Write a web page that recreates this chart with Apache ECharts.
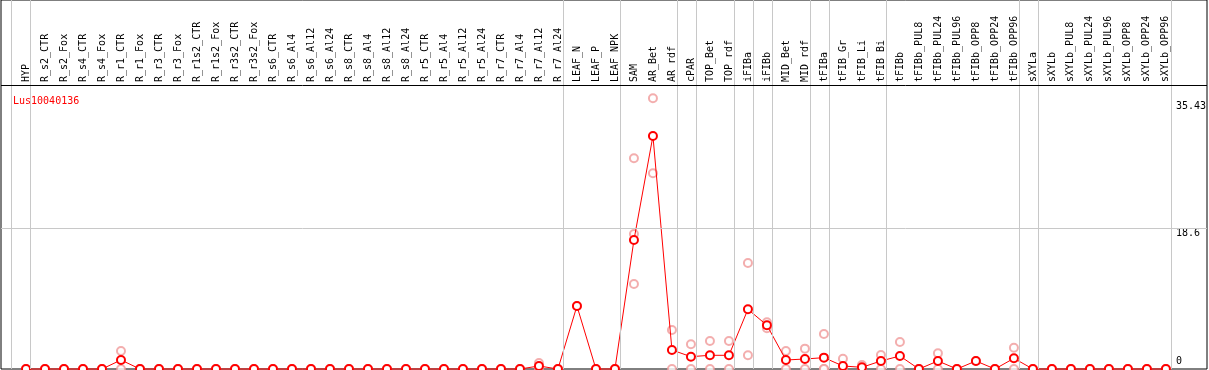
<!DOCTYPE html>
<html>
<head>
<meta charset="utf-8">
<script src="https://cdn.jsdelivr.net/npm/echarts@6/dist/echarts.min.js"></script>
<style>
  html, body { margin: 0; padding: 0; background: #fff; }
  #chart { width: 1209px; height: 370px; }
</style>
</head>
<body>
<div id="chart"></div>
<script>
// sample names, left to right
const categories = [
  'HYP', 'R_s2_CTR', 'R_s2_Fox', 'R_s4_CTR', 'R_s4_Fox', 'R_r1_CTR', 'R_r1_Fox', 'R_r3_CTR', 'R_r3_Fox',
  'R_r1s2_CTR', 'R_r1s2_Fox', 'R_r3s2_CTR', 'R_r3s2_Fox', 'R_s6_CTR', 'R_s6_Al4', 'R_s6_Al12', 'R_s6_Al24',
  'R_s8_CTR', 'R_s8_Al4', 'R_s8_Al12', 'R_s8_Al24', 'R_r5_CTR', 'R_r5_Al4', 'R_r5_Al12', 'R_r5_Al24',
  'R_r7_CTR', 'R_r7_Al4', 'R_r7_Al12', 'R_r7_Al24', 'LEAF_N', 'LEAF_P', 'LEAF_NPK', 'SAM', 'AR_Bet', 'AR_rdf',
  'cPAR', 'TOP_Bet', 'TOP_rdf', 'iFIBa', 'iFIBb', 'MID_Bet', 'MID_rdf', 'tFIBa', 'tFIB_Gr', 'tFIB_Li', 'tFIB_Bi',
  'tFIBb', 'tFIBb_PUL8', 'tFIBb_PUL24', 'tFIBb_PUL96', 'tFIBb_OPP8', 'tFIBb_OPP24', 'tFIBb_OPP96', 'sXYLa',
  'sXYLb', 'sXYLb_PUL8', 'sXYLb_PUL24', 'sXYLb_PUL96', 'sXYLb_OPP8', 'sXYLb_OPP24', 'sXYLb_OPP96'
];

// mean expression per sample
const means = [
  0, 0, 0, 0, 0, 1.19, 0, 0, 0, 0, 0, 0, 0, 0, 0, 0, 0, 0, 0, 0, 0, 0, 0, 0, 0, 0, 0, 0.4, 0,
  8.33, 0, 0, 17.05, 30.8, 2.51, 1.63, 1.81, 1.81, 7.89, 5.78, 1.19, 1.32, 1.5, 0.4, 0.22, 1.06, 1.72,
  0, 1.06, 0, 1.06, 0, 1.41, 0, 0, 0, 0, 0, 0, 0, 0
];

// replicate values (index -> values), samples not listed have replicates at 0
const replicates = {
  5: [2.38, 0],
  27: [0.8, 0],
  29: [8.33],
  32: [27.85, 17.85, 11.24],
  33: [35.78, 25.87],
  34: [5.16, 0],
  35: [3.26, 0],
  36: [3.7, 0],
  37: [3.7, 0],
  38: [14.01, 1.81],
  39: [6.17, 5.38],
  40: [2.38, 0],
  41: [2.69, 0],
  42: [4.63, 0, 0],
  43: [1.36, 0],
  44: [0.53, 0],
  45: [1.85, 0],
  46: [3.57, 0],
  48: [2.07, 0],
  50: [1.06],
  52: [2.82, 0]
};

// right axis labels
const yTicks = [0, 18.6, 35.43];
const gridValue = 18.6;

// group separators: drawn just right of these sample indexes
const separatorAfter = [-1, 0, 28, 31, 34, 35, 37, 38, 39, 41, 42, 45, 52, 53, 60];

const title = 'Lus10040136';

// layout
const W = 1209, H = 370;
const plotL = 26, plotR = 1166.6;       // first / last sample position
const frameL = 1, frameR = 1207;
const headerY = 85, baseY = 369;
const yMax = 37.54;                     // value at header line
const step = (plotR - plotL) / (categories.length - 1);
const frameYMax = yMax * baseY / (baseY - headerY);

const repData = [];
categories.forEach((c, i) => {
  (replicates[i] || [0, 0]).forEach((v) => repData.push([i, v]));
});

const mono = 'DejaVu Sans Mono';
const chart = echarts.init(document.getElementById('chart'), null, { renderer: 'canvas' });

const frameLines = separatorAfter.map((i) => ({ xAxis: i + 0.24 }));
frameLines.push({ yAxis: gridValue });
frameLines.push({ yAxis: yMax, lineStyle: { color: '#000' } });

chart.setOption({
  animation: false,
  backgroundColor: '#fff',
  title: {
    text: title,
    left: 8,
    top: 91,
    textStyle: { color: '#ff0000', fontSize: 10, fontWeight: 'normal', fontFamily: mono }
  },
  grid: [
    { left: plotL, right: W - plotR, top: headerY, bottom: H - baseY },
    { left: frameL, right: W - frameR, top: 0, bottom: H - baseY, show: true, borderColor: '#000', borderWidth: 1, backgroundColor: 'transparent' }
  ],
  xAxis: [
    {
      type: 'category',
      gridIndex: 0,
      position: 'top',
      data: categories,
      boundaryGap: false,
      axisLine: { show: false },
      axisTick: { show: false },
      splitLine: { show: false },
      axisLabel: { interval: 0, rotate: 90, margin: 3, fontSize: 10, fontFamily: mono, color: '#000' }
    },
    {
      type: 'value',
      gridIndex: 1,
      min: (frameL - plotL) / step,
      max: (frameR - plotL) / step,
      show: false
    }
  ],
  yAxis: [
    {
      type: 'value',
      gridIndex: 0,
      position: 'right',
      min: 0,
      max: yMax,
      axisLine: { show: false },
      axisTick: { show: false },
      splitLine: { show: false },
      axisLabel: {
        customValues: yTicks,
        margin: 10,
        fontSize: 10,
        fontFamily: mono,
        color: '#000',
        verticalAlign: 'middle',
        formatter: (v) => (v === 0 ? '{lo|0}' : '{hi|' + v + '}'),
        rich: {
          hi: { padding: [11, 0, 0, 0], fontSize: 10, fontFamily: mono },
          lo: { padding: [0, 0, 15, 0], fontSize: 10, fontFamily: mono }
        }
      }
    },
    {
      type: 'value',
      gridIndex: 1,
      min: 0,
      max: frameYMax,
      show: false
    }
  ],
  series: [
    {
      type: 'line',
      xAxisIndex: 1,
      yAxisIndex: 1,
      data: [],
      silent: true,
      z: 0,
      markLine: {
        silent: true,
        symbol: ['none', 'none'],
        label: { show: false },
        lineStyle: { color: '#c8c8c8', width: 1, type: 'solid' },
        emphasis: { disabled: true },
        data: frameLines
      }
    },
    {
      name: 'replicates',
      type: 'scatter',
      xAxisIndex: 0,
      yAxisIndex: 0,
      data: repData,
      symbol: 'emptyCircle',
      symbolSize: 8,
      itemStyle: { color: '#f09a9a', borderColor: '#f09a9a', borderWidth: 1.2 },
      clip: false,
      z: 3
    },
    {
      name: 'mean',
      type: 'line',
      xAxisIndex: 0,
      yAxisIndex: 0,
      data: means,
      showAllSymbol: true,
      symbol: 'emptyCircle',
      symbolSize: 8,
      lineStyle: { color: '#ff0000', width: 1 },
      itemStyle: { color: '#ff0000', borderColor: '#ff0000', borderWidth: 1.8 },
      clip: false,
      z: 4
    }
  ]
});
</script>
</body>
</html>
